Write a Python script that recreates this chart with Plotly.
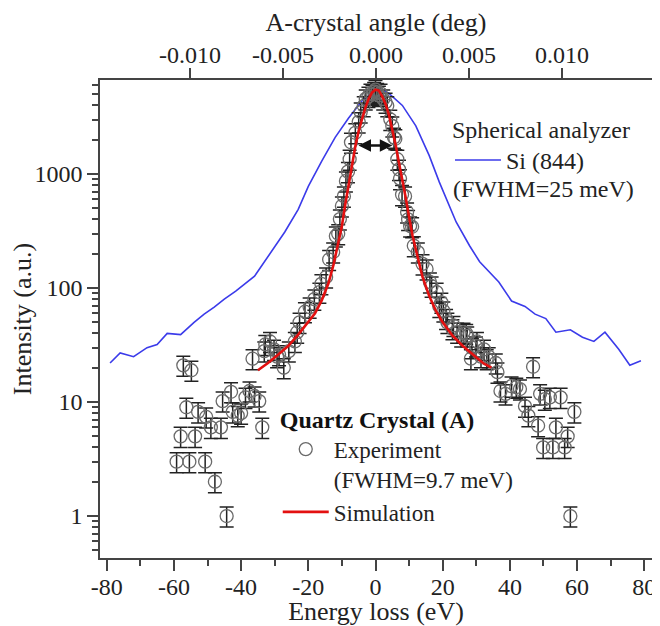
import plotly.graph_objects as go

# Si (844) spherical analyzer curve
si_x = [-79, -76, -72, -68, -65, -62, -58, -54, -51, -48, -45, -41.6, -36, -31, -27, -23, -20,
        -16, -12, -8, -4, 0, 2, 4, 8, 12, 16, 19, 24, 28, 31, 36.7, 40.5, 44.5, 47.5, 50.7,
        53.7, 58, 61.6, 65, 68.3, 72.4, 75.7, 79]
si_y = [22, 27, 25, 30, 32, 40, 39, 50, 59, 68, 80, 94, 127, 208, 310, 490, 780,
        1300, 2100, 3100, 4400, 5400, 5450, 5100, 4000, 2650, 1450, 850, 380, 235, 170, 113, 77, 69, 59, 54,
        41, 43, 37, 34, 41, 29, 21, 23]

# Quartz crystal (A) simulation
sim_x = [-35, -32, -29, -26, -23, -20, -18, -16, -14, -12.5, -11, -10, -9, -8, -7, -6, -5, -4, -3, -2,
         -1, 0, 1, 2, 3, 4, 5, 6, 7, 8, 9, 10, 11, 12.5, 14, 16, 18, 20, 23, 26, 29, 32, 34.5]
sim_y = [19, 22, 26, 31, 39, 50, 60, 78, 110, 160, 250, 350, 540, 820, 1200, 1750, 2400, 3100, 3850, 4600,
         5200, 5500, 5400, 4800, 4100, 3300, 2500, 1800, 1250, 900, 620, 420, 290, 190, 125, 85, 63, 50, 38,
         31, 26, 22, 20]

# Quartz crystal (A) experiment
exp_x = [-59.2, -58.0, -57.2, -56.3, -55.4, -54.8, -53.7, -52.8, -50.7, -50.4, -49.0, -47.8, -46.0,
         -45.5, -44.3, -43.0, -42.5, -41.0, -40.0, -38.7, -37.5, -36.6, -36.0, -34.6, -33.7, -33.1,
         -32.8, -31.4, -30.2, -29.3, -28.7, -27.3, -25.8, -24.0, -23.3, -22.6, -21.0, -19.6, -18.2,
         -16.7, -16.1, -14.7, -13.8, -12.6, -11.8, -11.1, -10.6, -10.0, -9.4, -8.8, -8.2, -7.7, -7.3,
         -6.0, -5.0, -4.4, -3.5, -2.9, -2.1, -1.5, -0.9, -0.4, 0.0, 0.5, 1.0, 1.5, 2.3, 3.0, 3.5, 4.4,
         5.0, 5.5, 5.9, 6.5, 7.0, 7.3, 7.9, 8.8, 9.4, 9.7, 10.3, 10.9, 11.4, 12.6, 14.0, 15.2, 16.2,
         16.7, 18.2, 19.0, 19.6, 20.2, 21.0, 21.4, 22.9, 23.2, 24.3, 25.5, 26.2, 27.0, 27.3, 28.4,
         28.7, 29.9, 30.2, 31.4, 32.3, 33.1, 33.7, 35.8, 36.3, 37.2, 38.7, 40.5, 41.9, 43.0, 44.5,
         45.5, 46.9, 48.4, 49.0, 49.9, 50.4, 51.9, 52.8, 53.7, 55.1, 56.3, 57.2, 58.0, 59.2]
exp_y = [3.0, 5.0, 21, 9.0, 3.0, 19, 5.0, 8.2, 3.0, 7.4, 6.0, 2.0, 6.0,
         10.2, 1.0, 12.3, 8.2, 7.6, 8.0, 11, 12.5, 24, 11.3, 10.2, 6.0, 28,
         32, 34, 29, 25, 26, 20, 28, 34, 41, 50, 62, 68, 80,
         92, 109, 125, 178, 207, 286, 300, 403, 525, 640, 870, 1050, 1350, 1900,
         2300, 2870, 3500, 3970, 4560, 4800, 5100, 5000, 5300, 5500, 5200, 4900, 5100, 4560, 4270, 3970, 3020,
         2640, 2100, 2040, 1350, 1100, 910, 660, 640, 465, 400, 350, 345, 235, 207, 163, 147, 113,
         104, 92, 69, 75, 63, 54, 50, 44, 47, 41, 38, 41, 40, 38, 24,
         30, 31, 34, 25, 29, 24, 25, 22, 18.3, 12.5, 11.8, 13.8, 13.5, 13, 9.2,
         7.6, 20.4, 6.2, 11.8, 4.0, 10.6, 11, 4.0, 6.0, 11, 4.0, 5.0, 1.0, 8.2]
exp_err_pct = 20

energy_ticks = [-80, -60, -40, -20, 0, 20, 40, 60, 80]
angle_ticks = [-0.010, -0.005, 0.000, 0.005, 0.010]
angle_labels = ["-0.010", "-0.005", "0.000", "0.005", "0.010"]
y_ticks = [1, 10, 100, 1000]
y_minor = [0.5, 0.6, 0.7, 0.8, 0.9] + [m * d for d in (1, 10, 100) for m in range(2, 10)] + [2000, 3000, 4000, 5000, 6000]

FONT = "Liberation Serif, Times New Roman, serif"
AX = "#444"

fig = go.Figure()

fig.add_trace(go.Scatter(
    x=si_x, y=si_y, mode="lines", name="Si (844)", legend="legend",
    line=dict(color="#3b3bea", width=1.6),
))
fig.add_trace(go.Scatter(
    x=exp_x, y=exp_y, mode="markers", name="Experiment<br>(FWHM=9.7 meV)", legend="legend2",
    marker=dict(symbol="circle-open", size=13, color="#6a6a6a", line=dict(width=1.3)),
    error_y=dict(type="percent", value=exp_err_pct, color="#222", thickness=1.5, width=7),
))
fig.add_trace(go.Scatter(
    x=sim_x, y=sim_y, mode="lines", name="Simulation", legend="legend2",
    line=dict(color="#e31010", width=2.6),
))
# carrier for the top angle axis
fig.add_trace(go.Scatter(x=angle_ticks, y=[None] * len(angle_ticks), xaxis="x2",
                         mode="lines", showlegend=False, hoverinfo="skip"))

# FWHM arrow
fig.add_annotation(x=5.0, y=3.25, ax=-5.5, ay=3.25, xref="x", yref="y", axref="x", ayref="y",
                   text="", showarrow=True, arrowhead=2, arrowside="end+start",
                   arrowsize=1, arrowwidth=2.5, arrowcolor="#111")
fig.add_annotation(x=0.636, y=0.772, xref="paper", yref="paper", xanchor="left", yanchor="middle",
                   text="(FWHM=25 meV)", showarrow=False, font=dict(size=24, color="#222"))

fig.update_layout(
    width=652, height=618,
    margin=dict(l=92, r=8, t=72, b=68),
    paper_bgcolor="white", plot_bgcolor="white",
    font=dict(family=FONT, size=24, color="#222"),
    xaxis=dict(
        range=[-82.0, 82.3], tickvals=energy_ticks, ticktext=[str(v) for v in energy_ticks],
        ticks="outside", ticklen=11, tickwidth=1.5, tickcolor=AX, ticklabelstandoff=-5,
        minor=dict(dtick=10, tick0=0, ticks="outside", ticklen=6, tickwidth=1.5, tickcolor=AX),
        showline=True, linecolor=AX, linewidth=1.5, mirror=True, showgrid=False, zeroline=False,
        automargin=False,
        title=dict(text="Energy loss (eV)", font=dict(size=26), standoff=2),
    ),
    xaxis2=dict(
        overlaying="x", side="top", range=[-0.01484, 0.01484], tickvals=angle_ticks,
        ticktext=angle_labels, ticks="outside", ticklen=11, tickwidth=1.5, tickcolor=AX,
        ticklabelstandoff=-5,
        showline=False, showgrid=False, zeroline=False, automargin=False,
        title=dict(text="A-crystal angle (deg)", font=dict(size=26), standoff=4),
    ),
    yaxis=dict(
        type="log", range=[-0.368, 3.825], tickvals=y_ticks, ticktext=[str(v) for v in y_ticks],
        ticks="outside", ticklen=11, tickwidth=1.5, tickcolor=AX,
        minor=dict(tickmode="array", tickvals=y_minor, ticks="outside", ticklen=6,
                   tickwidth=1.5, tickcolor=AX),
        showline=True, linecolor=AX, linewidth=1.5, mirror="ticks", showgrid=False, zeroline=False,
        automargin=False,
        title=dict(text="Intensity (a.u.)", font=dict(size=26), standoff=4),
    ),
    legend=dict(
        x=0.634, y=0.944, xanchor="left", yanchor="top", bgcolor="rgba(0,0,0,0)",
        title=dict(text="Spherical analyzer", font=dict(size=24)),
        font=dict(size=24, color="#222"), itemwidth=46,
    ),
    legend2=dict(
        x=0.322, y=0.338, xanchor="left", yanchor="top", bgcolor="rgba(0,0,0,0)",
        title=dict(text="<b>Quartz Crystal (A)</b>", font=dict(size=24, color="#111")),
        font=dict(size=23, color="#222"), itemwidth=46, valign="top", tracegroupgap=0,
    ),
)

fig.write_html("out.html")
